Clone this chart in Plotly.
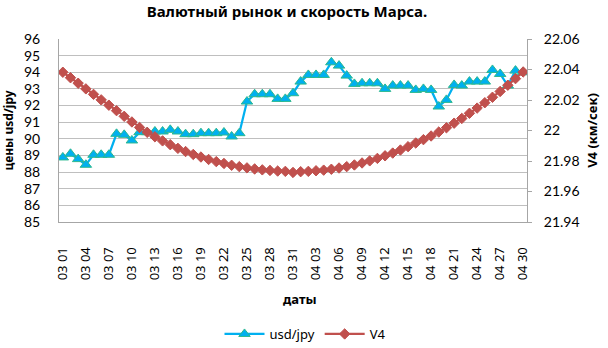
import pandas as pd
import plotly.graph_objects as go

# Daily dates, 1 March .. 30 April, written as "MM DD"
dates = [d.strftime("%m %d") for d in pd.date_range("2010-03-01", "2010-04-30", freq="D")]

# usd/jpy exchange rate
usd_jpy = [88.88, 89.10, 88.78, 88.44, 89.04, 89.04, 89.04, 90.30, 90.24, 89.90,
           90.40, 90.40, 90.44, 90.44, 90.54, 90.44, 90.28, 90.28, 90.34, 90.34,
           90.34, 90.38, 90.14, 90.34, 92.24, 92.68, 92.68, 92.68, 92.40, 92.40,
           92.74, 93.44, 93.84, 93.84, 93.84, 94.60, 94.40, 93.80, 93.30, 93.34,
           93.34, 93.34, 93.00, 93.20, 93.20, 93.20, 92.94, 93.00, 92.94, 91.94,
           92.34, 93.24, 93.20, 93.44, 93.44, 93.44, 94.14, 93.90, 93.20, 94.10,
           94.00]

# V4, km/s
v4 = [22.0382, 22.0346, 22.0310, 22.0273, 22.0237, 22.0201, 22.0166, 22.0130, 22.0093, 22.0056,
      22.0020, 21.9988, 21.9959, 21.9932, 21.9907, 21.9883, 21.9862, 21.9843, 21.9826, 21.9810,
      21.9796, 21.9784, 21.9772, 21.9763, 21.9755, 21.9748, 21.9742, 21.9738, 21.9734, 21.9732,
      21.9725, 21.9730, 21.9732, 21.9736, 21.9740, 21.9746, 21.9754, 21.9763, 21.9774, 21.9787,
      21.9801, 21.9817, 21.9834, 21.9852, 21.9872, 21.9894, 21.9918, 21.9940, 21.9964, 21.9990,
      22.0018, 22.0048, 22.0079, 22.0113, 22.0147, 22.0182, 22.0218, 22.0256, 22.0297, 22.0340,
      22.0384]

tick_dates = dates[::3]

FONT = "Noto Sans"      # Cyrillic titles
NUM_FONT = "Lato"       # numeric tick labels
BLUE = "#00B0F0"
RED = "#C0504D"
GRID = "#BFBFBF"
AXIS = "#A6A6A6"

fig = go.Figure()

fig.add_trace(go.Scatter(
    x=dates, y=usd_jpy, name="usd/jpy", mode="lines+markers",
    line=dict(color=BLUE, width=2.25),
    marker=dict(symbol="triangle-up", size=10, color=BLUE,
                line=dict(color="#2DB88E", width=1)),
    yaxis="y",
))

fig.add_trace(go.Scatter(
    x=dates, y=v4, name="V4", mode="lines+markers",
    line=dict(color=RED, width=2.25),
    marker=dict(symbol="diamond", size=8, color=RED,
                line=dict(color=RED, width=1)),
    yaxis="y2",
))

fig.update_layout(
    width=608, height=348,
    margin=dict(l=59, r=81, t=39, b=126, autoexpand=False),
    paper_bgcolor="white", plot_bgcolor="white",
    font=dict(family=FONT, color="#000000"),
    showlegend=True,
    title=dict(text="<b>Валютный рынок и скорость Марса.</b>",
               x=287 / 608, xref="container", xanchor="center",
               y=1 - 12 / 348, yref="container", yanchor="middle",
               font=dict(family=FONT, size=15, color="#000000")),
    xaxis=dict(
        type="category", categoryorder="array", categoryarray=dates,
        range=[-0.5, len(dates) - 0.5],
        tickmode="array", tickvals=tick_dates, ticktext=tick_dates,
        tickangle=-90, tickfont=dict(family=FONT, size=13),
        showgrid=False, showline=True, linecolor=AXIS, linewidth=1,
        ticks="", ticklabelstandoff=19, zeroline=False,
        automargin=False,
    ),
    yaxis=dict(
        range=[85, 96], dtick=1, tick0=85,
        showgrid=True, gridcolor=GRID, gridwidth=1,
        showline=True, linecolor=AXIS, linewidth=1,
        ticks="", ticklabelstandoff=15, zeroline=False,
        tickfont=dict(family=NUM_FONT, size=14),
        automargin=False,
        title=dict(text="<b>цены usd/jpy</b>", standoff=8,
                   font=dict(family=FONT, size=12, color="#000000")),
    ),
    yaxis2=dict(
        range=[21.94, 22.06], dtick=0.02, tick0=21.94,
        overlaying="y", side="right",
        showgrid=False, showline=True, linecolor=AXIS, linewidth=1,
        ticks="outside", ticklen=4, tickcolor=AXIS,
        ticklabelstandoff=9, zeroline=False,
        tickfont=dict(family=NUM_FONT, size=14),
        automargin=False,
        title=dict(text="<b>V4 (км/сек)</b>", standoff=9,
                   font=dict(family=FONT, size=13, color="#000000")),
    ),
    legend=dict(
        orientation="h", xref="container", yref="container",
        x=305 / 608, xanchor="center", y=1 - 334 / 348, yanchor="middle",
        font=dict(family=FONT, size=13), itemwidth=40,
        bgcolor="rgba(0,0,0,0)",
    ),
    annotations=[
        dict(text="<b>даты</b>", xref="paper", yref="paper",
             x=(300 - 59) / 468, y=(222 - 299) / 183, showarrow=False,
             xanchor="center", yanchor="middle",
             font=dict(family=FONT, size=13, color="#000000")),
    ],
)

fig.write_html("out.html")
